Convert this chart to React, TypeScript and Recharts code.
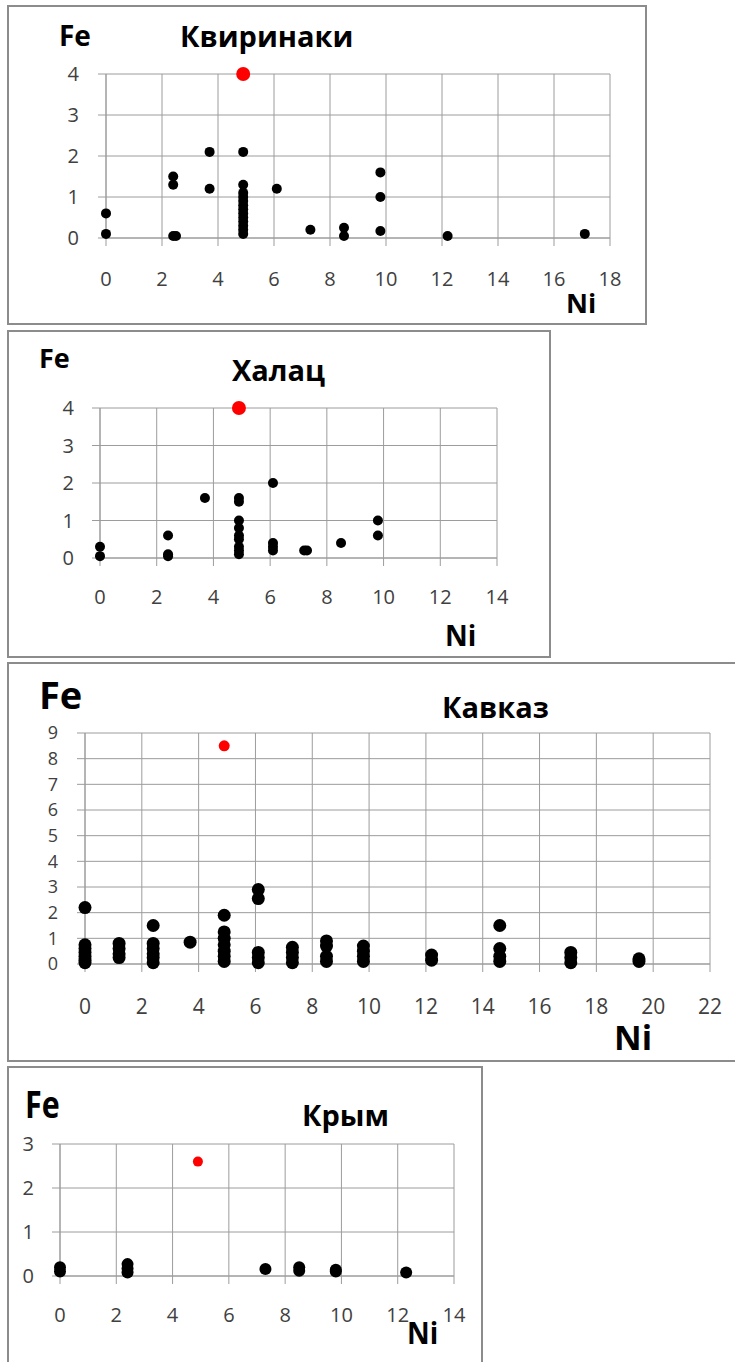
import React from 'react'
import { ScatterChart, Scatter, XAxis, YAxis, CartesianGrid } from 'recharts'

// Квиринаки
const kvNi = [0, 0, 2.4, 2.4, 2.4, 2.5, 3.7, 3.7, 4.9, 4.9, 4.9, 4.9, 4.9, 4.9, 4.9, 4.9, 4.9, 4.9, 4.9, 4.9, 4.9, 6.1, 7.3, 8.5, 8.5, 9.8, 9.8, 9.8, 12.2, 17.1]
const kvFe = [0.6, 0.1, 1.5, 1.3, 0.05, 0.05, 2.1, 1.2, 2.1, 1.3, 1.1, 1.0, 0.9, 0.8, 0.7, 0.6, 0.5, 0.4, 0.3, 0.2, 0.1, 1.2, 0.2, 0.25, 0.05, 1.6, 1.0, 0.17, 0.05, 0.1]
const kvRedNi = [4.9]
const kvRedFe = [4.0]
const kvXTicks = [0, 2, 4, 6, 8, 10, 12, 14, 16, 18]
const kvYTicks = [0, 1, 2, 3, 4]

// Халац
const hlNi = [0, 0, 2.4, 2.4, 2.4, 3.7, 4.9, 4.9, 4.9, 4.9, 4.9, 4.9, 4.9, 4.9, 4.9, 6.1, 6.1, 6.1, 6.1, 7.2, 7.3, 8.5, 9.8, 9.8]
const hlFe = [0.3, 0.05, 0.6, 0.1, 0.05, 1.6, 1.6, 1.5, 1.0, 0.8, 0.6, 0.5, 0.3, 0.2, 0.1, 2.0, 0.4, 0.3, 0.2, 0.2, 0.2, 0.4, 1.0, 0.6]
const hlRedNi = [4.9]
const hlRedFe = [4.0]
const hlXTicks = [0, 2, 4, 6, 8, 10, 12, 14]
const hlYTicks = [0, 1, 2, 3, 4]

// Кавказ
const kzNi = [
  0, 0, 0, 0, 0, 0, 0,
  1.2, 1.2, 1.2, 1.2,
  2.4, 2.4, 2.4, 2.4, 2.4, 2.4,
  3.7,
  4.9, 4.9, 4.9, 4.9, 4.9, 4.9, 4.9,
  6.1, 6.1, 6.1, 6.1, 6.1,
  7.3, 7.3, 7.3, 7.3,
  8.5, 8.5, 8.5, 8.5,
  9.8, 9.8, 9.8, 9.8,
  12.2, 12.2,
  14.6, 14.6, 14.6, 14.6,
  17.1, 17.1, 17.1,
  19.5, 19.5,
]
const kzFe = [
  2.2, 0.75, 0.6, 0.45, 0.3, 0.15, 0.05,
  0.8, 0.6, 0.4, 0.25,
  1.5, 0.8, 0.6, 0.4, 0.25, 0.05,
  0.85,
  1.9, 1.25, 1.0, 0.75, 0.5, 0.3, 0.1,
  2.9, 2.55, 0.45, 0.25, 0.05,
  0.65, 0.45, 0.25, 0.05,
  0.9, 0.7, 0.3, 0.1,
  0.7, 0.5, 0.3, 0.1,
  0.35, 0.15,
  1.5, 0.6, 0.3, 0.1,
  0.45, 0.25, 0.05,
  0.2, 0.1,
]
const kzRedNi = [4.9]
const kzRedFe = [8.5]
const kzXTicks = [0, 2, 4, 6, 8, 10, 12, 14, 16, 18, 20, 22]
const kzYTicks = [0, 1, 2, 3, 4, 5, 6, 7, 8, 9]

// Крым
const krNi = [0, 0, 2.4, 2.4, 2.4, 7.3, 8.5, 8.5, 9.8, 9.8, 12.3]
const krFe = [0.2, 0.1, 0.27, 0.17, 0.08, 0.16, 0.2, 0.12, 0.14, 0.1, 0.08]
const krRedNi = [4.9]
const krRedFe = [2.6]
const krXTicks = [0, 2, 4, 6, 8, 10, 12, 14]
const krYTicks = [0, 1, 2, 3]

const toPoints = (ni: number[], fe: number[]) => ni.map((x, i) => ({ ni: x, fe: fe[i] }))

const GRID = '#9c9c9c'
const FONT = '"Open Sans", "DejaVu Sans", sans-serif'

type Box = { left: number; top: number; width: number; height: number }
type Plot = { left: number; right: number; top: number; bottom: number }
type Txt = { text: string; left: number; cy: number; size: number; sx?: number }

type PanelProps = {
  box: Box
  plot: Plot
  chartW: number
  chartH: number
  black: { ni: number; fe: number }[]
  red: { ni: number; fe: number }[]
  xTicks: number[]
  yTicks: number[]
  xFont: number
  yFont: number
  xTickMargin: number
  yTickMargin: number
  blackR: number
  redR: number
  labels: Txt[]
}

const circle = (r: number, fill: string) => (props: any) =>
  <circle cx={props.cx} cy={props.cy} r={r} fill={fill} />

function Panel(p: PanelProps) {
  const xAxisH = 60
  const localBottom = p.plot.bottom - p.box.top
  const margin = {
    top: p.plot.top - p.box.top,
    left: 0,
    right: p.chartW - p.plot.right,
    bottom: p.chartH - localBottom - xAxisH,
  }
  const xTick = { fill: '#404040', fontSize: p.xFont, fontFamily: FONT }
  const yTick = { fill: '#404040', fontSize: p.yFont, fontFamily: FONT }
  return (
    <>
      <div
        style={{
          position: 'absolute',
          left: p.box.left,
          top: p.box.top,
          width: p.box.width,
          height: p.box.height,
          border: '2px solid #8c8c8c',
          boxSizing: 'border-box',
          background: '#fff',
        }}
      />
      <div style={{ position: 'absolute', left: 0, top: p.box.top }}>
        <ScatterChart width={p.chartW} height={p.chartH} margin={margin}>
          <CartesianGrid stroke={GRID} />
          <XAxis
            type="number"
            dataKey="ni"
            domain={[p.xTicks[0], p.xTicks[p.xTicks.length - 1]]}
            ticks={p.xTicks}
            interval={0}
            height={xAxisH}
            tick={xTick}
            tickSize={8}
            tickMargin={p.xTickMargin}
            axisLine={{ stroke: GRID }}
            tickLine={{ stroke: GRID }}
          />
          <YAxis
            type="number"
            dataKey="fe"
            domain={[p.yTicks[0], p.yTicks[p.yTicks.length - 1]]}
            ticks={p.yTicks}
            interval={0}
            width={p.plot.left}
            tick={yTick}
            tickSize={8}
            tickMargin={p.yTickMargin}
            axisLine={{ stroke: GRID }}
            tickLine={{ stroke: GRID }}
          />
          <Scatter data={p.black} fill="#000" shape={circle(p.blackR, '#000')} isAnimationActive={false} />
          <Scatter data={p.red} fill="#ff0000" shape={circle(p.redR, '#ff0000')} isAnimationActive={false} />
        </ScatterChart>
      </div>
      {p.labels.map((l) => (
        <div
          key={l.text}
          style={{
            position: 'absolute',
            left: l.left,
            top: l.cy - 0.53 * l.size,
            fontSize: l.size,
            lineHeight: 1,
            fontWeight: 700,
            fontFamily: FONT,
            color: '#000',
            whiteSpace: 'nowrap',
            transform: l.sx ? `scaleX(${l.sx})` : undefined,
            transformOrigin: 'left center',
          }}
        >
          {l.text}
        </div>
      ))}
    </>
  )
}

export default function App() {
  return (
    <div
      style={{
        position: 'absolute',
        left: 0,
        top: 0,
        width: 735,
        height: 1362,
        overflow: 'hidden',
        background: '#fff',
      }}
    >
      <Panel
        box={{ left: 7, top: 5, width: 640, height: 320 }}
        plot={{ left: 106, right: 610, top: 74, bottom: 238 }}
        chartW={640}
        chartH={318}
        black={toPoints(kvNi, kvFe)}
        red={toPoints(kvRedNi, kvRedFe)}
        xTicks={kvXTicks}
        yTicks={kvYTicks}
        xFont={20}
        yFont={20}
        xTickMargin={26}
        yTickMargin={19}
        blackR={5}
        redR={7}
        labels={[
          { text: 'Fe', left: 59, cy: 36, size: 28 },
          { text: 'Квиринаки', left: 180, cy: 36, size: 29 },
          { text: 'Ni', left: 566, cy: 303, size: 27 },
        ]}
      />
      <Panel
        box={{ left: 7, top: 330, width: 544, height: 328 }}
        plot={{ left: 100, right: 497, top: 408, bottom: 558 }}
        chartW={545}
        chartH={326}
        black={toPoints(hlNi, hlFe)}
        red={toPoints(hlRedNi, hlRedFe)}
        xTicks={hlXTicks}
        yTicks={hlYTicks}
        xFont={20}
        yFont={20}
        xTickMargin={24}
        yTickMargin={18}
        blackR={5}
        redR={7}
        labels={[
          { text: 'Fe', left: 39, cy: 358, size: 27 },
          { text: 'Халац', left: 232, cy: 370, size: 29 },
          { text: 'Ni', left: 445, cy: 636, size: 28 },
        ]}
      />
      <Panel
        box={{ left: 7, top: 662, width: 740, height: 400 }}
        plot={{ left: 85, right: 710, top: 733, bottom: 964 }}
        chartW={735}
        chartH={398}
        black={toPoints(kzNi, kzFe)}
        red={toPoints(kzRedNi, kzRedFe)}
        xTicks={kzXTicks}
        yTicks={kzYTicks}
        xFont={21}
        yFont={18}
        xTickMargin={27}
        yTickMargin={19}
        blackR={6.5}
        redR={5.5}
        labels={[
          { text: 'Fe', left: 39, cy: 695, size: 38 },
          { text: 'Кавказ', left: 442, cy: 707, size: 29 },
          { text: 'Ni', left: 614, cy: 1038, size: 34 },
        ]}
      />
      <Panel
        box={{ left: 7, top: 1066, width: 476, height: 310 }}
        plot={{ left: 60, right: 454, top: 1144, bottom: 1276 }}
        chartW={480}
        chartH={296}
        black={toPoints(krNi, krFe)}
        red={toPoints(krRedNi, krRedFe)}
        xTicks={krXTicks}
        yTicks={krYTicks}
        xFont={20}
        yFont={20}
        xTickMargin={24}
        yTickMargin={18}
        blackR={6}
        redR={5}
        labels={[
          { text: 'Fe', left: 25, cy: 1104, size: 38, sx: 0.8 },
          { text: 'Крым', left: 302, cy: 1115, size: 29 },
          { text: 'Ni', left: 407, cy: 1333, size: 31, sx: 0.9 },
        ]}
      />
    </div>
  )
}
